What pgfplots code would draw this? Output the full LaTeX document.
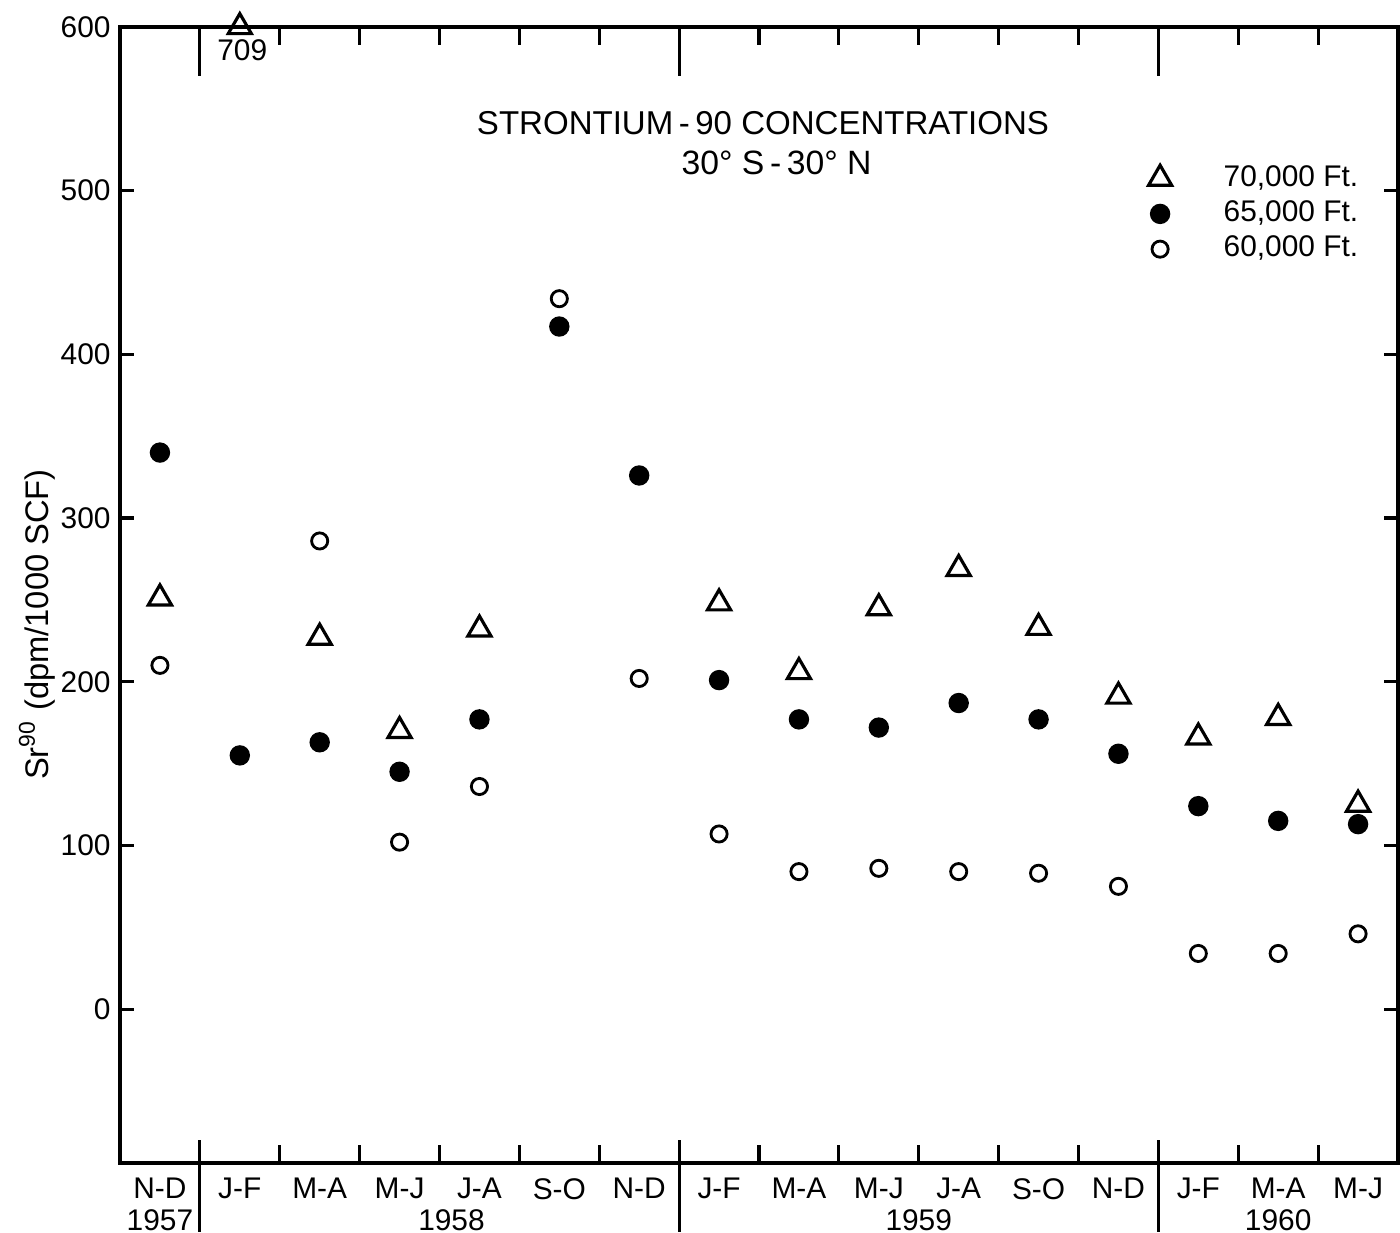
\documentclass[border=0pt]{standalone}
\usepackage{fontspec}
\setmainfont{Liberation Sans}
\usepackage{pgfplots}
\pgfplotsset{compat=1.18}
\begin{document}
\begin{tikzpicture}[x=1cm,y=1cm]
\useasboundingbox (-1.2,-0.7) rectangle (12.8,11.63);
\begin{axis}[
  at={(0,0)}, anchor=south west,
  scale only axis, width=12.78cm, height=11.36cm,
  xmin=-0.5, xmax=15.5, ymin=-94, ymax=600,
  xtick={0,...,15},
  xticklabels={N-D,J-F,M-A,M-J,J-A,S-O,N-D,J-F,M-A,M-J,J-A,S-O,N-D,J-F,M-A,M-J},
  major x tick style={draw=none},
  minor xtick={0.5,1.5,...,14.5},
  ytick={0,100,...,600},
  major tick length=0.14cm,
  minor tick length=0.18cm,
  tick align=inside,
  axis line style={line width=1.1pt},
  tick style={line width=0.9pt, black},
  xticklabel style={yshift=-0.03cm},
  yticklabel style={xshift=0.03cm},
  ticklabel style={font=\fontsize{8.5}{10}\selectfont},
  /pgf/number format/assume math mode=true,
  ylabel={Sr\textsuperscript{90} (dpm/1000 SCF)},
  ylabel style={font=\fontsize{9.3}{11}\selectfont, at={(rel axis cs:-0.065,0.474)}, anchor=center},
  clip=false,
  legend style={at={(rel axis cs:0.796,0.891)}, anchor=north west, draw=none, fill=none,
    font=\fontsize{8.5}{10}\selectfont, row sep=-1.4pt,
    /tikz/every odd column/.append style={column sep=0.45cm}},
  legend cell align=left,
]
% 70,000 ft (open triangles)
\addplot[only marks, mark=triangle, mark size=3.8pt, mark options={line width=0.9pt, black, fill=white}]
coordinates {(0,251) (2,227) (3,170) (4,232) (7,248) (8,206) (9,245) (10,269) (11,233) (12,191) (13,166) (14,178) (15,125)};
\addlegendentry{70,000 Ft.}
% 65,000 ft (filled circles)
\addplot[only marks, mark=*, mark size=2.7pt, black]
coordinates {(0,340) (1,155) (2,163) (3,145) (4,177) (5,417) (6,326) (7,201) (8,177) (9,172) (10,187) (11,177) (12,156) (13,124) (14,115) (15,113)};
\addlegendentry{65,000 Ft.}
% 60,000 ft (open circles)
\addplot[only marks, mark=o, mark size=2.3pt, mark options={line width=0.8pt, black}]
coordinates {(0,210) (2,286) (3,102) (4,136) (5,434) (6,202) (7,107) (8,84) (9,86) (10,84) (11,83) (12,75) (13,34) (14,34) (15,46)};
\addlegendentry{60,000 Ft.}
% off-scale value 709 drawn at the top edge
\addplot[only marks, mark=triangle, mark size=3.8pt, mark options={line width=0.9pt, black, fill=white}, forget plot]
coordinates {(1,600)};
\node[font=\fontsize{8.5}{10}\selectfont, anchor=north, inner sep=1pt] at (axis cs:1.03,595) {709};
% year separators
\pgfplotsinvokeforeach{0.5,6.5,12.5}{
  \draw[line width=0.9pt] (axis cs:#1,600) -- (axis cs:#1,570);
  \draw[line width=0.9pt] (axis cs:#1,-80) -- (axis cs:#1,-136);
}
% year labels
\node[font=\fontsize{8.5}{10}\selectfont] at (axis cs:0,-94) [yshift=-0.57cm] {1957};
\node[font=\fontsize{8.5}{10}\selectfont] at (axis cs:3.65,-94) [yshift=-0.57cm] {1958};
\node[font=\fontsize{8.5}{10}\selectfont] at (axis cs:9.5,-94) [yshift=-0.57cm] {1959};
\node[font=\fontsize{8.5}{10}\selectfont] at (axis cs:14,-94) [yshift=-0.57cm] {1960};
% title
\node[font=\fontsize{9.4}{11}\selectfont] at (axis cs:7.55,541) {STRONTIUM\,-\,90 CONCENTRATIONS};
\node[font=\fontsize{9.6}{11}\selectfont] at (axis cs:7.72,517) {30° S\,-\,30° N};
\end{axis}
\end{tikzpicture}
\end{document}
